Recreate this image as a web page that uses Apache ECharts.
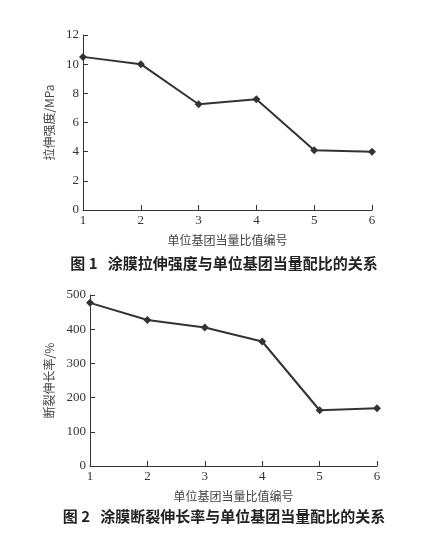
<!DOCTYPE html><html><head><meta charset="utf-8"><script src="https://cdn.jsdelivr.net/npm/echarts@6/dist/echarts.min.js"></script></head><body style="margin:0;background:#fff"><div id="c" style="width:448px;height:538px"></div><script>
const categories=[1,2,3,4,5,6];
const tensile=[10.5,10.0,7.25,7.6,4.1,4.0];
const elongation=[477,427,405,364,163,169];
const yTicks1=[0,2,4,6,8,10,12];
const yTicks2=[0,100,200,300,400,500];
const ser='"Liberation Serif","DejaVu Serif",serif';
const cjk='"Noto Sans CJK SC",sans-serif';
const col='#333';
function xa(i){return {gridIndex:i,type:'value',min:1,max:6,interval:1,name:'单位基团当量比值编号',nameLocation:'middle',nameGap:24,nameTextStyle:{fontFamily:cjk,fontSize:12,color:'#444'},axisLine:{lineStyle:{color:col}},axisTick:{inside:true,length:5,lineStyle:{color:col}},axisLabel:{fontFamily:ser,fontSize:13,color:'#333',margin:4},splitLine:{show:false}};}
function ya(i,max,int,name){return {gridIndex:i,type:'value',min:0,max:max,interval:int,name:name,nameLocation:'middle',nameGap:i?32:26,nameTextStyle:{fontFamily:cjk,fontSize:12,color:'#444'},axisLine:{show:true,lineStyle:{color:col}},axisTick:{show:true,inside:true,length:5,lineStyle:{color:col}},axisLabel:{fontFamily:ser,fontSize:13,color:'#333',margin:4},splitLine:{show:false}};}
const chart=echarts.init(document.getElementById('c'));
chart.setOption({animation:false,
grid:[{left:83,right:76,top:35,bottom:328},{left:90,right:71,top:295,bottom:72}],
xAxis:[xa(0),xa(1)],
yAxis:[ya(0,12,2,'拉伸强度/MPa'),ya(1,500,100,'断裂伸长率/%')],
graphic:[
{type:'text',left:'center',top:256,style:{text:'图 1   涂膜拉伸强度与单位基团当量配比的关系',font:'bold 15px "Noto Sans CJK SC"',fill:'#222'}},
{type:'text',left:'center',top:509,style:{text:'图 2   涂膜断裂伸长率与单位基团当量配比的关系',font:'bold 15px "Noto Sans CJK SC"',fill:'#222'}}],
series:[
{type:'line',xAxisIndex:0,yAxisIndex:0,data:categories.map((c,i)=>[c,tensile[i]]),symbol:'diamond',symbolSize:8,lineStyle:{color:col,width:2},itemStyle:{color:col}},
{type:'line',xAxisIndex:1,yAxisIndex:1,data:categories.map((c,i)=>[c,elongation[i]]),symbol:'diamond',symbolSize:8,lineStyle:{color:col,width:2},itemStyle:{color:col}}]});
</script></body></html>
